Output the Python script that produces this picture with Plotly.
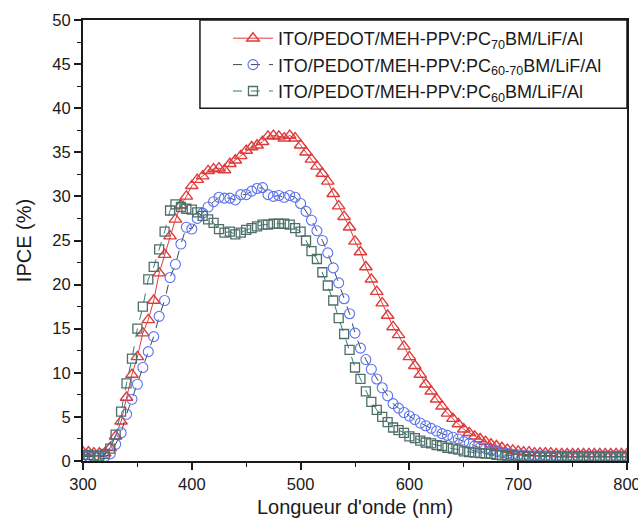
import plotly.graph_objects as go

wavelength = list(range(300, 805, 5))

ipce_pc70 = [1.0, 1.0, 0.9, 0.9, 0.9, 1.5, 2.8, 4.5, 7.2, 9.8,
             11.8, 14.5, 16.0, 18.2, 21.3, 23.4, 25.5, 27.4, 29.0, 30.0,
             31.2, 31.9, 32.3, 32.9, 33.1, 33.2, 33.0, 33.7, 34.1, 34.6,
             35.2, 35.6, 35.8, 36.2, 36.8, 36.9, 36.8, 36.6, 36.9, 36.6,
             35.8, 35.0, 34.2, 33.4, 32.6, 31.7, 30.3, 28.9, 27.7, 26.5,
             24.9, 23.7, 22.0, 20.6, 19.2, 17.9, 16.5, 15.2, 14.3, 13.0,
             11.8, 10.8, 9.8, 8.7, 7.9, 7.0, 6.2, 5.4, 4.8, 4.2,
             3.6, 3.2, 2.8, 2.5, 2.2, 1.9, 1.7, 1.5, 1.3, 1.2,
             1.1, 1.0, 1.0, 0.9, 0.9, 0.9, 0.9, 0.8, 0.8, 0.8,
             0.8, 0.8, 0.8, 0.8, 0.8, 0.8, 0.8, 0.8, 0.8, 0.8, 0.8]

ipce_pc6070 = [0.5, 0.5, 0.5, 0.5, 0.5, 0.8, 1.9, 3.2, 5.3, 7.0,
               8.7, 10.6, 12.4, 14.1, 16.4, 18.2, 20.8, 22.3, 24.6, 26.5,
               26.3, 27.5, 28.1, 28.8, 29.4, 29.9, 29.8, 29.8, 29.6, 30.2,
               30.2, 30.6, 30.9, 31.0, 30.2, 30.0, 30.1, 29.9, 30.1, 29.9,
               29.2, 28.3, 27.3, 26.1, 25.0, 23.6, 21.9, 20.2, 18.4, 16.7,
               14.5, 12.8, 11.5, 10.4, 9.3, 8.3, 7.4, 6.5, 6.0, 5.5,
               5.1, 4.7, 4.3, 4.0, 3.7, 3.4, 3.1, 2.9, 2.7, 2.5,
               2.2, 2.0, 1.7, 1.5, 1.4, 1.2, 1.1, 0.95, 0.85, 0.75,
               0.7, 0.65, 0.6, 0.6, 0.6, 0.6, 0.55, 0.55, 0.55, 0.55,
               0.55, 0.55, 0.55, 0.55, 0.55, 0.55, 0.55, 0.55, 0.55, 0.55, 0.55]

ipce_pc60 = [0.7, 0.7, 0.6, 0.6, 0.8, 1.4, 3.0, 5.6, 8.8, 11.6,
             15.0, 17.5, 20.6, 22.0, 24.0, 26.0, 28.4, 29.1, 28.8, 28.6,
             28.5, 28.2, 27.8, 27.4, 27.0, 26.3, 25.9, 26.0, 25.7, 25.9,
             26.2, 26.4, 26.6, 26.8, 26.8, 26.9, 26.9, 26.9, 26.8, 26.4,
             26.0, 25.0, 23.8, 22.9, 21.4, 19.9, 18.2, 16.2, 14.4, 12.6,
             10.6, 9.3, 7.9, 6.7, 5.8, 5.0, 4.4, 3.8, 3.5, 3.2,
             2.8, 2.6, 2.3, 2.1, 2.0, 1.8, 1.7, 1.5, 1.4, 1.3,
             1.1, 1.0, 0.95, 0.9, 0.85, 0.8, 0.7, 0.65, 0.6, 0.6,
             0.55, 0.55, 0.5, 0.5, 0.5, 0.5, 0.5, 0.5, 0.5, 0.5,
             0.5, 0.5, 0.5, 0.5, 0.5, 0.5, 0.5, 0.5, 0.5, 0.5, 0.5]

series_names = [
    "ITO/PEDOT/MEH-PPV:PC<sub>70</sub>BM/LiF/Al",
    "ITO/PEDOT/MEH-PPV:PC<sub>60-70</sub>BM/LiF/Al",
    "ITO/PEDOT/MEH-PPV:PC<sub>60</sub>BM/LiF/Al",
]

x_ticks = [300, 400, 500, 600, 700, 800]
y_ticks = [0, 5, 10, 15, 20, 25, 30, 35, 40, 45, 50]

FONT = "Arial, 'Liberation Sans', sans-serif"
INK = "#1a1a1a"

fig = go.Figure()

fig.add_trace(go.Scatter(
    x=wavelength, y=ipce_pc70, name=series_names[0], mode="lines+markers",
    line=dict(color="#e03a3a", width=1),
    marker=dict(symbol="triangle-up-open", size=11, color="#e03a3a",
                line=dict(width=1.4, color="#e03a3a")),
))
fig.add_trace(go.Scatter(
    x=wavelength, y=ipce_pc6070, name=series_names[1], mode="lines+markers",
    line=dict(color="#444444", width=1, dash="dash"),
    marker=dict(symbol="circle-open", size=10, color="#5a72f0",
                line=dict(width=1.1, color="#5a72f0")),
))
fig.add_trace(go.Scatter(
    x=wavelength, y=ipce_pc60, name=series_names[2], mode="lines+markers",
    line=dict(color="#2a7f78", width=1, dash="dash"),
    marker=dict(symbol="square-open", size=9, color="#4d6f68",
                line=dict(width=1.3, color="#4d6f68")),
))

axis_common = dict(
    showline=True, linecolor=INK, linewidth=2, mirror=True,
    ticks="outside", ticklen=7, tickwidth=1.5, tickcolor=INK,
    showgrid=False, zeroline=False, automargin=False,
    tickfont=dict(family=FONT, size=16.5, color=INK),
)

fig.update_xaxes(
    range=[300, 800], tickvals=x_ticks, ticklabeloverflow="allow",
    minor=dict(ticks="outside", ticklen=4, tickwidth=1.2, dtick=50, tick0=300, tickcolor=INK),
    title=dict(text="Longueur d'onde (nm)", font=dict(family=FONT, size=20, color=INK), standoff=8),
    **axis_common,
)
fig.update_yaxes(
    range=[0, 50], tickvals=y_ticks, ticklabeloverflow="allow",
    minor=dict(ticks="outside", ticklen=4, tickwidth=1.2, dtick=2.5, tick0=0, tickcolor=INK),
    title=dict(text="IPCE (%)", font=dict(family=FONT, size=20, color=INK), standoff=15),
    **axis_common,
)

# legend frame (top-right corner of the plot area)
fig.add_shape(type="rect", xref="paper", yref="paper",
              x0=0.215, x1=1.0, y0=0.8, y1=1.0,
              line=dict(color=INK, width=1.5), fillcolor="white", layer="above")

fig.update_layout(
    width=638, height=520,
    margin=dict(l=83, r=11, t=20, b=59, autoexpand=False),
    plot_bgcolor="white", paper_bgcolor="white",
    legend=dict(
        x=0.2665, y=1.0, xanchor="left", yanchor="top",
        borderwidth=0, bgcolor="rgba(0,0,0,0)",
        font=dict(family=FONT, size=18, color=INK),
        tracegroupgap=0, itemwidth=40,
    ),
    showlegend=True,
)

fig.write_html("out.html", config={"displayModeBar": False},
               post_script="document.body.style.margin='0px';")
